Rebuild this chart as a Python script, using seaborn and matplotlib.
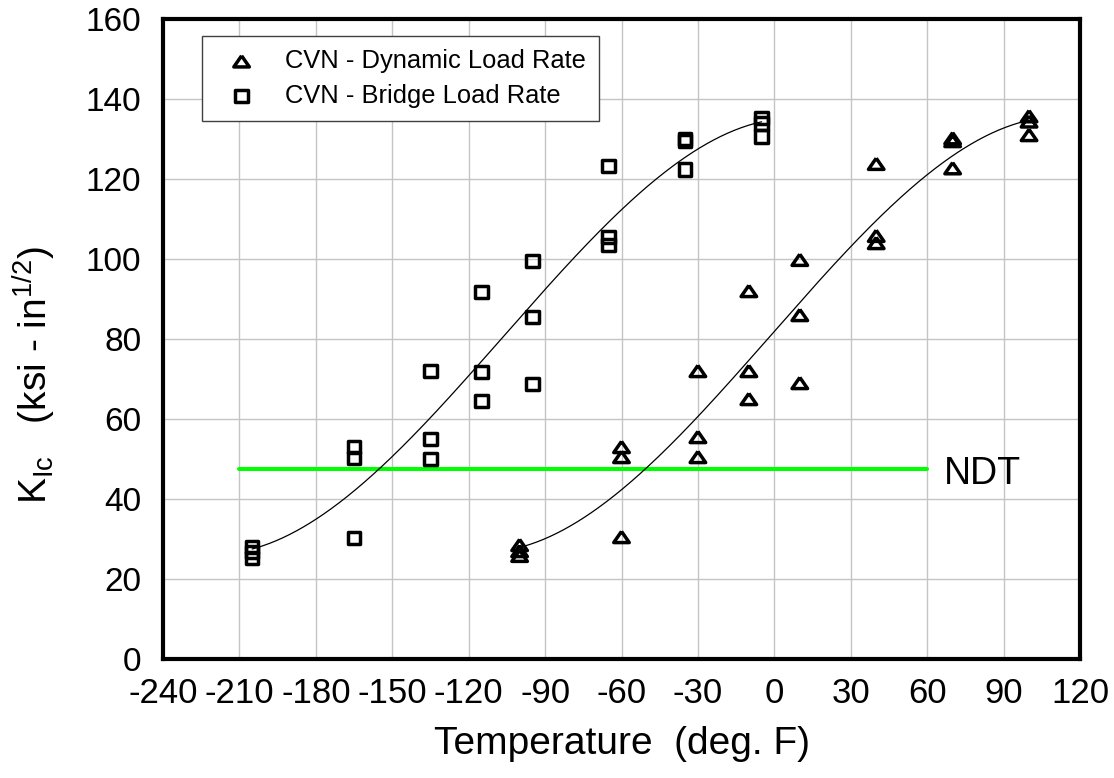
import numpy as np
import pandas as pd
import matplotlib
matplotlib.use("Agg")
import matplotlib.pyplot as plt
from matplotlib.markers import MarkerStyle
import seaborn as sns

# ---------------- data ----------------
dyn_temp = [-100, -100, -100, -60, -60, -60, -30, -30, -30, -10, -10, -10,
            10, 10, 10, 40, 40, 40, 70, 70, 70, 100, 100, 100]
dyn_k = [28.5, 27.0, 25.8, 53.0, 50.5, 30.5, 72.0, 55.5, 50.5, 92.0, 72.0, 65.0,
         99.8, 86.0, 69.0, 123.8, 105.8, 104.0, 130.2, 129.5, 122.7, 135.7, 134.4, 131.0]

bridge_temp = [-205, -205, -205, -165, -165, -165, -135, -135, -135, -115, -115, -115,
               -95, -95, -95, -65, -65, -65, -35, -35, -35, -5, -5, -5]
bridge_k = [28.0, 26.8, 25.2, 53.0, 50.3, 30.2, 72.0, 55.0, 50.0, 91.8, 71.8, 64.5,
            99.5, 85.5, 68.8, 123.2, 105.5, 103.5, 130.0, 129.5, 122.4, 135.2, 133.9, 130.6]

ndt_temp = [-210, 60]
ndt_k = [47.5, 47.5]

x_ticks = list(range(-240, 121, 30))
y_ticks = list(range(0, 161, 20))

labels = ["CVN - Dynamic Load Rate", "CVN - Bridge Load Rate"]

# ---------------- style ----------------
sns.set_style("white")
plt.rcParams["font.family"] = ["Liberation Sans", "DejaVu Sans"]
plt.rcParams["axes.unicode_minus"] = False
plt.rcParams["mathtext.default"] = "regular"
for key in ["text.color", "axes.labelcolor", "xtick.color", "ytick.color"]:
    plt.rcParams[key] = "black"

fig = plt.figure(figsize=(11.14, 7.78), dpi=100)
ax = fig.add_axes([0.14632, 0.15296, 0.82316, 0.82262])
ax.set_axisbelow(True)

# NDT line
sns.lineplot(x=ndt_temp, y=ndt_k, color="#00ff00", linewidth=2.9, ax=ax, zorder=2)

# fitted curves (cubic regression of each data set)
for t, k in [(dyn_temp, dyn_k), (bridge_temp, bridge_k)]:
    coef = np.polyfit(t, k, 3)
    tt = np.linspace(min(t), max(t), 300)
    sns.lineplot(x=tt, y=np.polyval(coef, tt), color="black", linewidth=0.9,
                 ax=ax, zorder=3, estimator=None, sort=False)

tri = MarkerStyle([(0, 0.72), (-1, -0.72), (1, -0.72), (0, 0.72)])
sns.scatterplot(x=dyn_temp, y=dyn_k, marker=tri, s=125, color="black",
                facecolor="none", edgecolor="black", linewidth=2.5,
                label=labels[0], ax=ax, zorder=4)
sns.scatterplot(x=bridge_temp, y=bridge_k, marker="s", s=82, color="black",
                facecolor="none", edgecolor="black", linewidth=2.5,
                label=labels[1], ax=ax, zorder=4)

ax.set_xlim(-240, 120)
ax.set_ylim(0, 160)
ax.set_xticks(x_ticks)
ax.set_yticks(y_ticks)
ax.set_xticklabels([str(v) for v in x_ticks], fontsize=25)
ax.set_yticklabels([str(v) for v in y_ticks], fontsize=24)
ax.tick_params(axis="both", direction="in", length=14, width=2.8, color="black")
ax.tick_params(axis="x", pad=13)
ax.tick_params(axis="y", pad=15.5)

ax.grid(True, color="#c4c4c4", linewidth=1.0)
for sp in ax.spines.values():
    sp.set_visible(True)
    sp.set_linewidth(3.0)
    sp.set_color("black")

ax.set_xlabel("Temperature  (deg. F)", fontsize=28)
ax.xaxis.set_label_coords(0.5, -0.104)
ax.set_ylabel("K$_{Ic}$   (ksi - in$^{1/2}$)", fontsize=28)
ax.yaxis.set_label_coords(-0.114, 0.444)

ax.text(66.5, 43.7, "NDT", fontsize=27, ha="left", va="baseline", zorder=5)

leg = ax.legend(loc="upper left", bbox_to_anchor=(0.0425, 0.973), borderaxespad=0,
                fontsize=18.4, handlelength=2.1, handletextpad=0.65,
                labelspacing=0.42, borderpad=0.5, fancybox=False, framealpha=1,
                edgecolor="#404040")
leg.get_frame().set_linewidth(1.0)

fig.savefig("out.png", dpi=100)
